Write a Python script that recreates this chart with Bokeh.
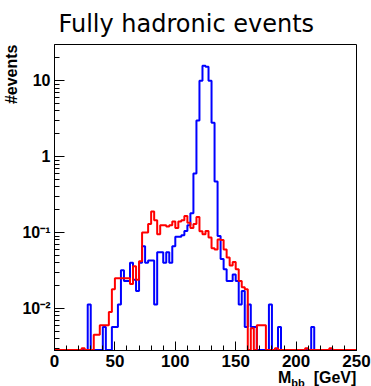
import numpy as np
from bokeh.plotting import figure
from bokeh.models import FixedTicker, Range1d, Title, Div
from bokeh.layouts import column
from bokeh.embed import file_html
from bokeh.resources import INLINE

# ---- data: histogram of M_bb, 100 bins of 2.5 GeV from 0 to 250 ----
bin_width = 2.5
n_bins = 100

blue_vals = [
    0, 0, 0, 0, 0, 0, 0, 0, 0, 0,                          # 0-9
    0, 0.0113, 0, 0, 0, 0, 0.0057, 0, 0, 0.0057,           # 10-19
    0.0057, 0.0113, 0.032, 0.023, 0.023, 0.040, 0.024, 0.017, 0.040, 0.066,   # 20-29
    0.040, 0.043, 0.043, 0.0113, 0.055, 0.055, 0.040, 0.055, 0.040, 0.066,    # 30-39
    0.088, 0.088, 0.092, 0.105, 0.125, 0.18, 0.6, 3.0, 10.0, 15.8,            # 40-49
    15.3, 10.0, 2.8, 0.47, 0.09, 0.045, 0.033, 0.023, 0.023, 0.028,           # 50-59
    0.023, 0.0113, 0.017, 0.0057, 0.0113, 0.0057, 0.0057, 0, 0, 0,            # 60-69
    0, 0.0113, 0, 0, 0.0057, 0, 0, 0, 0, 0,                                   # 70-79
    0, 0, 0, 0, 0, 0.0057, 0, 0, 0, 0,                                        # 80-89
    0, 0, 0, 0, 0, 0, 0, 0, 0, 0,                                             # 90-99
]

red_vals = [
    0, 0, 0, 0, 0, 0, 0, 0, 0, 0.003,                                         # 0-9
    0, 0, 0, 0.0045, 0.0045, 0.006, 0.006, 0.006, 0.009, 0.018,               # 10-19
    0.025, 0.025, 0.025, 0.025, 0.025, 0.021, 0.036, 0.024, 0.042, 0.10,      # 20-29
    0.10, 0.13, 0.19, 0.145, 0.095, 0.125, 0.125, 0.12, 0.125, 0.14,          # 30-39
    0.115, 0.14, 0.145, 0.165, 0.135, 0.115, 0.13, 0.16, 0.104, 0.095,        # 40-49
    0.105, 0.086, 0.062, 0.06, 0.081, 0.08, 0.06, 0.047, 0.037, 0.041,        # 50-59
    0.033, 0.023, 0.019, 0.018, 0, 0.0055, 0, 0.006, 0.006, 0.006,            # 60-69
    0, 0, 0, 0.003, 0, 0, 0, 0, 0, 0,                                         # 70-79
    0, 0, 0, 0.003, 0, 0, 0, 0, 0, 0,                                         # 80-89
    0, 0.003, 0, 0, 0, 0, 0, 0, 0, 0,                                         # 90-99
]

x_major = [0, 50, 100, 150, 200, 250]
x_minor = list(range(0, 251, 10))
y_major = [0.01, 0.1, 1, 10]
y_minor = [m * 10.0 ** e for e in (-3, -2, -1, 0) for m in range(2, 10)] + [20]
y_major_labels = {0.01: "10\u207b\u00b2", 0.1: "10\u207b\u00b9", 1: "1", 10: "10"}

title_text = "Fully hadronic events"
ylabel_text = "#events"
xlabel_main = "M"
xlabel_sub = "bb"
xlabel_unit = "[GeV]"

Y_MIN, Y_MAX = 0.0028, 30.0
FLOOR = 0.00285

edges = np.arange(n_bins + 1) * bin_width


def step_path(vals):
    v = np.asarray(vals, dtype=float)
    v = np.where(v > 0, v, FLOOR)
    xs = np.repeat(edges, 2)[1:-1]
    ys = np.repeat(v, 2)
    return xs, ys


FIG_H = 374
DIV_H = 386 - FIG_H

p = figure(width=371, height=FIG_H, y_axis_type="log",
           x_range=Range1d(0, 250), y_range=Range1d(Y_MIN, Y_MAX),
           output_backend="svg", toolbar_location=None, title=None,
           min_border_left=52, min_border_right=15,
           min_border_top=44, min_border_bottom=FIG_H - 350)

p.background_fill_color = "white"
p.border_fill_color = "white"
p.outline_line_color = "black"
p.outline_line_width = 1
p.xgrid.visible = False
p.ygrid.visible = False

p.xaxis.ticker = FixedTicker(ticks=x_major, minor_ticks=x_minor)
p.yaxis.ticker = FixedTicker(ticks=y_major, minor_ticks=y_minor)
p.yaxis.major_label_overrides = y_major_labels

for ax in (p.xaxis[0], p.yaxis[0]):
    ax.axis_line_color = "black"
    ax.major_tick_line_color = "black"
    ax.minor_tick_line_color = "black"
    ax.major_tick_out = 0
    ax.minor_tick_out = 0
    ax.minor_tick_in = 5
    ax.major_label_text_font = "Liberation Sans"
    ax.major_label_text_font_style = "bold"
    ax.major_label_text_color = "black"
    ax.major_label_standoff = 4
p.xaxis.major_label_text_font_size = "17px"
p.yaxis.major_label_text_font_size = "16px"
p.xaxis.major_tick_in = 9
p.yaxis.major_tick_in = 10

bx, by = step_path(blue_vals)
rx, ry = step_path(red_vals)
p.line(bx, by, line_color="#0000ff", line_width=2)
p.line(rx, ry, line_color="#ff0000", line_width=2)

# title above the frame
p.add_layout(Title(text=title_text, align="left", offset=4, standoff=13,
                   text_font="DejaVu Sans", text_font_style="normal",
                   text_font_size="24px", text_color="black"), "above")

# y-axis title, right-aligned to the top of the axis
p.add_layout(Title(text=ylabel_text, align="right", standoff=0,
                   text_font="Liberation Sans", text_font_style="bold",
                   text_font_size="16px", text_color="black"), "left")

# x-axis title (with subscript) as real HTML text under the plot
xlabel_html = (
    "<div style=\"position:relative; top:-4px; padding-left:278px; text-align:left; "
    "font-family:'Liberation Sans', Arial, sans-serif; font-weight:bold; font-size:16px; "
    "line-height:16px; white-space:nowrap; color:black;\">"
    f"{xlabel_main}<span style=\"font-size:11px; position:relative; top:4px;\">{xlabel_sub}</span>"
    f"&nbsp;&nbsp;{xlabel_unit}</div>"
)
div = Div(text=xlabel_html, width=371, height=DIV_H, margin=0)

root = column(p, div, spacing=0)

open("out.html", "w").write(file_html(root, INLINE))
